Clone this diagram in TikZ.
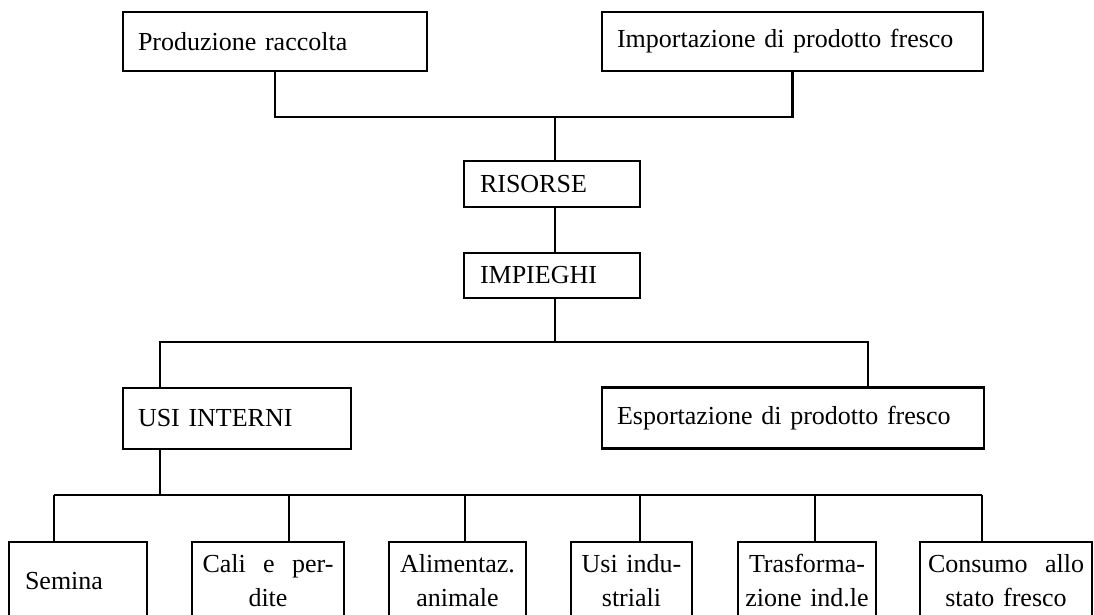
\documentclass[tikz,border=0pt]{standalone}
\usepackage{fontspec}
\setmainfont{Liberation Serif}
\begin{document}
\begin{tikzpicture}[x=1pt,y=-1pt,
  box/.style={draw, line width=2.2pt, inner xsep=15pt, inner ysep=0pt,
    font=\fontsize{26}{34}\selectfont, align=left},
  lowbox/.style={draw, line width=2.2pt, inner xsep=6pt, inner ysep=0pt,
    font=\fontsize{26}{34}\selectfont, align=center, minimum height=78pt},
  link/.style={line width=2.2pt}]
\clip (0,0) rectangle (1094,615);
\fill[white] (0,0) rectangle (1094,615);
% top row
\node[box, minimum width=304pt, minimum height=59pt, text width=274pt] (prod) at (275,41.5) {Produzione raccolta};
\node[box, minimum width=381pt, minimum height=59pt, text width=351pt] (imp) at (792.5,41.5) {Importazione di prodotto fresco};
% centre
\node[box, minimum width=176pt, minimum height=46pt, text width=144pt, inner xsep=16pt] (ris) at (552,184) {RISORSE};
\node[box, minimum width=176pt, minimum height=45pt, text width=144pt, inner xsep=16pt] (imp2) at (552,275.5) {IMPIEGHI};
% middle row
\node[box, minimum width=228pt, minimum height=61pt, text width=198pt] (usi) at (237,418.5) {USI INTERNI};
\node[box, minimum width=382pt, minimum height=61pt, text width=352pt] (esp) at (793,418) {Esportazione di prodotto fresco};
% bottom row
\node[lowbox, minimum width=138pt, text width=106pt, align=left, inner xsep=16pt] (sem) at (78,581) {Semina};
\node[lowbox, minimum width=152pt, text width=140pt] (cali) at (268,581) {Cali\ \ e\ \ per-\\dite};
\node[lowbox, minimum width=137pt, text width=125pt] (alim) at (457.5,581) {Alimentaz.\\animale};
\node[lowbox, minimum width=121pt, text width=109pt] (uind) at (631.5,581) {Usi indu-\\striali};
\node[lowbox, minimum width=138pt, text width=126pt] (tras) at (807,581) {Trasforma-\\zione ind.le};
\node[lowbox, minimum width=172pt, text width=160pt] (cons) at (1006,581) {Consumo\ \ allo\\stato\ fresco};
% connectors top
\coordinate (t) at (555,117);
\draw[link] (prod.south) -- (prod.south |- t) -- (imp.south |- t) -- (imp.south);
\draw[link] (t) -- (ris.north -| t);
\draw[link] (ris.south -| t) -- (imp2.north -| t);
% first split
\coordinate (m) at (555,342);
\coordinate (ml) at (160,342);
\coordinate (mr) at (868,342);
\draw[link] (imp2.south -| m) -- (m);
\draw[link] (usi.north -| ml) -- (ml) -- (mr) -- (esp.north -| mr);
% second split
\coordinate (u) at (160,495);
\coordinate (b1) at (54,495);
\coordinate (b2) at (289,495);
\coordinate (b3) at (465,495);
\coordinate (b4) at (640,495);
\coordinate (b5) at (815,495);
\coordinate (b6) at (982,495);
\draw[link] (usi.south -| u) -- (u);
\draw[link] (b1) -- (b6);
\draw[link] (b1) -- (sem.north -| b1);
\draw[link] (b2) -- (cali.north -| b2);
\draw[link] (b3) -- (alim.north -| b3);
\draw[link] (b4) -- (uind.north -| b4);
\draw[link] (b5) -- (tras.north -| b5);
\draw[link] (b6) -- (cons.north -| b6);
\end{tikzpicture}
\end{document}
